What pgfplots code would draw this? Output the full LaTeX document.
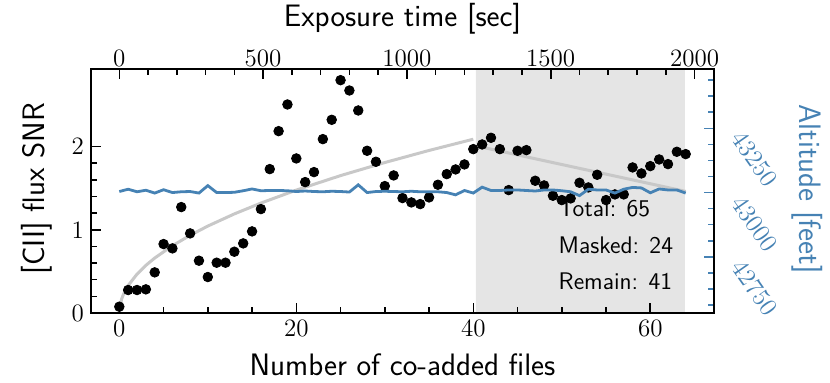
\documentclass[border=0pt]{standalone}
\usepackage{fontspec}
\usepackage{pgfplots}
\pgfplotsset{compat=1.18}
\definecolor{steel}{RGB}{70,130,180}
\definecolor{curvegray}{RGB}{200,200,200}
\definecolor{shade}{RGB}{229,229,229}

\pgfplotstableread{
x y
0 0.076
1 0.276
2 0.276
3 0.284
4 0.488
5 0.828
6 0.776
7 1.272
8 0.956
9 0.628
10 0.432
11 0.604
12 0.604
13 0.736
14 0.836
15 0.980
16 1.248
17 1.728
18 2.184
19 2.504
20 1.856
21 1.572
22 1.692
23 2.088
24 2.320
25 2.796
26 2.672
27 2.432
28 1.948
29 1.816
30 1.524
31 1.652
32 1.380
33 1.328
34 1.308
35 1.388
36 1.540
37 1.668
38 1.724
39 1.784
40 1.968
41 2.024
42 2.104
43 1.968
44 1.476
45 1.948
46 1.956
47 1.588
48 1.532
49 1.408
50 1.356
51 1.376
52 1.564
53 1.508
54 1.660
55 1.356
56 1.424
57 1.424
58 1.748
59 1.676
60 1.764
61 1.844
62 1.788
63 1.936
64 1.908
}\snrdata

\pgfplotstableread{
x alt
0 43004
1 43013
2 43003
3 43009
4 42998
5 43011
6 43000
7 43003
8 43004
9 42998
10 43027
11 43000
12 43000
13 43001
14 43007
15 43014
16 43007
17 43008
18 43008
19 43007
20 43004
21 43006
22 43004
23 43003
24 43005
25 43004
26 43002
27 43030
28 43000
29 43004
30 43005
31 43004
32 43003
33 43005
34 43003
35 43003
36 43003
37 43000
38 42991
39 43008
40 42998
41 43021
42 43008
43 43008
44 43010
45 43010
46 43008
47 43006
48 43010
49 43010
50 43007
51 43003
52 42988
53 43013
54 43010
55 43010
56 42998
57 43013
58 43020
59 43018
60 42999
61 43014
62 43010
63 43010
64 42998
}\altdata

\pgfplotsset{
  base/.style={
    width=311.5pt, height=122pt, scale only axis,
    tick align=inside,
    major tick length=5pt, minor tick length=3pt,
    /pgf/number format/assume math mode=true,
    /pgf/number format/1000 sep={},
    scaled ticks=false,
    tick label style={font=\fontsize{12.5}{15}\selectfont},
    label style={font=\sffamily\fontsize{15.5}{18}\selectfont},
    every tick/.style={black, line width=0.8pt},
    axis line style={line width=1.1pt},
  }
}

\begin{document}
\begin{tikzpicture}
\path[use as bounding box] (-45.5pt,-34.5pt) rectangle (369.5pt,156.5pt);

% main axis
\begin{axis}[base,
  xmin=-3.2, xmax=67.2, ymin=0, ymax=2.93,
  xtick={0,20,40,60}, ytick={0,1,2},
  minor x tick num=3, minor y tick num=4,
  xtick pos=left, ytick pos=left,
  axis on top,
  xlabel={Number of co-added files},
  ylabel={[CII] flux SNR},
  xlabel style={at={(axis description cs:0.5,-0.213)}, anchor=center},
  ylabel style={at={(axis description cs:-0.0875,0.51)}, anchor=center},
]
\addplot[fill=shade, draw=none] coordinates {(40.3,0) (40.3,2.93) (63.9,2.93) (63.9,0)} \closedcycle;
\addplot[only marks, mark=*, mark size=2.4pt, black] table[x=x, y=y] {\snrdata};
\addplot[curvegray, line width=1.5pt] coordinates {
(0,0) (0.25,0.165) (0.5,0.233) (1,0.33) (2,0.467) (3,0.572) (4,0.66) (6,0.808) (8,0.933) (10,1.044) (13,1.190) (16,1.32) (20,1.476) (25,1.65) (30,1.807) (35,1.952) (40,2.087)};
\addplot[curvegray, line width=1.5pt] coordinates {(40.6,2.0) (64,1.46)};
\node[anchor=west, inner sep=0pt, font=\sffamily\fontsize{12}{14}\selectfont] at (axis cs:49.6,1.26) {Total: 65};
\node[anchor=west, inner sep=0pt, font=\sffamily\fontsize{12}{14}\selectfont] at (axis cs:49.6,0.816) {Masked: 24};
\node[anchor=west, inner sep=0pt, font=\sffamily\fontsize{12}{14}\selectfont] at (axis cs:49.6,0.384) {Remain: 41};
\end{axis}

% top axis
\begin{axis}[base,
  xmin=-98.46, xmax=2067.7, ymin=0, ymax=1,
  hide y axis,
  xtick={0,500,1000,1500,2000}, minor x tick num=4,
  xtick pos=right, xticklabel pos=right,
  xticklabel style={yshift=-2.5pt},
  xlabel={Exposure time [sec]},
  xlabel style={at={(axis description cs:0.5,1.205)}, anchor=center},
]
\addplot[draw=none] coordinates {(0,0.5)};
\end{axis}

% right axis
\begin{axis}[base,
  xmin=-3.2, xmax=67.2, ymin=42531, ymax=43481,
  hide x axis,
  ytick={42750,43000,43250},
  minor ytick={42562.5,42625,42687.5,42812.5,42875,42937.5,43062.5,43125,43187.5,43312.5,43375,43437.5},
  ytick pos=right, yticklabel pos=right,
  ytick align=inside,
  every tick/.style={steel, line width=0.8pt},
  every minor tick/.append style={steel, line width=0.8pt},
  yticklabel style={steel, xshift=9.5pt, rotate=-55, anchor=west},
  ylabel={Altitude [feet]},
  ylabel style={steel, at={(axis description cs:1.150,0.508)}, anchor=center, rotate=180},
]
\addplot[steel, line width=1.4pt] table[x=x, y=alt] {\altdata};
\end{axis}
\end{tikzpicture}
\end{document}
